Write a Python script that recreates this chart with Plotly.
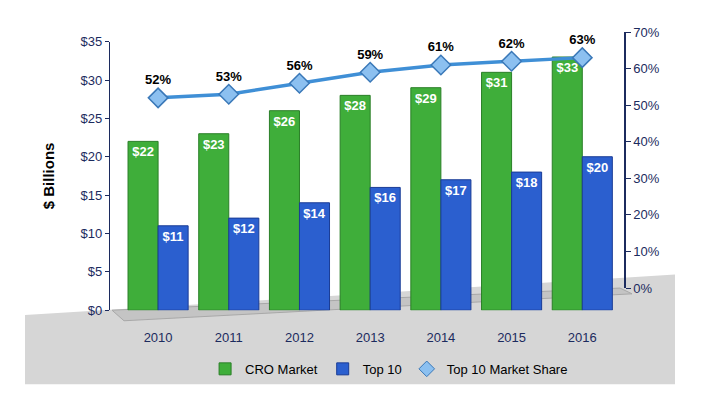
import plotly.graph_objects as go

years = ["2010", "2011", "2012", "2013", "2014", "2015", "2016"]
cro_market = [22, 23, 26, 28, 29, 31, 33]
top10 = [11, 12, 14, 16, 17, 18, 20]
share = [52, 53, 56, 59, 61, 62, 63]

left_ticks = [0, 5, 10, 15, 20, 25, 30, 35]
right_ticks = [0, 10, 20, 30, 40, 50, 60, 70]

W, H = 710, 400
navy = "#1c2b5e"
font_family = "Liberation Sans, Arial, sans-serif"

fig = go.Figure()

fig.add_trace(go.Bar(
    x=years, y=cro_market, name="CRO Market",
    marker=dict(color="#3fae3a", line=dict(color="#2a7f27", width=1)),
    text=[f"${v}" for v in cro_market], textposition="inside",
    insidetextanchor="end", textangle=0,
    textfont=dict(color="white", size=13, family=font_family, weight="bold"),
    xaxis="x", yaxis="y",
))
fig.add_trace(go.Bar(
    x=years, y=top10, name="Top 10",
    marker=dict(color="#2b5fcf", line=dict(color="#1a3c96", width=1)),
    text=[f"${v}" for v in top10], textposition="inside",
    insidetextanchor="end", textangle=0,
    textfont=dict(color="white", size=13, family=font_family, weight="bold"),
    xaxis="x", yaxis="y",
))
fig.add_trace(go.Scatter(
    x=years, y=share, name="Top 10 Market Share", showlegend=False,
    mode="lines+markers+text",
    line=dict(color="#3f8fd6", width=3.5),
    marker=dict(symbol="diamond", size=15, color="#8cc0f0",
                line=dict(color="#3a78b8", width=1.5)),
    text=[f"{v}%" for v in share], textposition="top center",
    textfont=dict(color="black", size=13, family=font_family, weight="bold"),
    xaxis="x2", yaxis="y2", cliponaxis=False,
))
# legend entry for the line series (diamond only)
fig.add_trace(go.Scatter(
    x=[None], y=[None], name="Top 10 Market Share", mode="markers",
    marker=dict(symbol="diamond", size=12, color="#8cc0f0",
                line=dict(color="#3a78b8", width=1)),
    xaxis="x2", yaxis="y2",
))

xdom = [110 / W, 624 / W]
xrange = [-0.68, 6.59]

fig.update_layout(
    width=W, height=H,
    margin=dict(l=0, r=0, t=0, b=0),
    paper_bgcolor="white", plot_bgcolor="rgba(0,0,0,0)",
    font=dict(family=font_family, color=navy, size=13),
    barmode="group", bargap=0.15, bargroupgap=0.0,
    xaxis=dict(domain=xdom, range=xrange, showgrid=False, zeroline=False,
               showline=False, ticks="", ticklabelstandoff=18,
               tickfont=dict(size=13, color=navy), anchor="y"),
    yaxis=dict(domain=[1 - 315 / H, 1 - 36 / H], range=[0, 35],
               tickvals=left_ticks, ticktext=[f"${v}" for v in left_ticks],
               showgrid=False, zeroline=False, showline=True,
               linecolor=navy, linewidth=1.2, ticks="outside", ticklen=4,
               tickcolor=navy, tickfont=dict(size=13, color=navy),
               title=dict(text="$ Billions", standoff=22,
                          font=dict(size=15, color="black", weight="bold")),
               anchor="x"),
    xaxis2=dict(domain=xdom, range=xrange, visible=False, anchor="y2"),
    yaxis2=dict(domain=[1 - 292 / H, 1 - 26 / H], range=[0, 70],
                tickvals=right_ticks, ticktext=[f"{v}%" for v in right_ticks],
                side="right", anchor="x2", showgrid=False, zeroline=False,
                showline=True, linecolor=navy, linewidth=1.5,
                ticks="outside", ticklen=5, tickcolor=navy,
                tickfont=dict(size=13, color=navy)),
    legend=dict(orientation="h", x=0.548, xanchor="center", y=1 - 376 / H,
                yanchor="middle", bgcolor="rgba(0,0,0,0)",
                font=dict(size=13, color="black"), traceorder="normal",
                itemwidth=30),
    shapes=[
        dict(type="path", xref="paper", yref="paper", layer="below",
             path=f"M {25/W},{1-320/H} L {675/W},{1-278/H} L {675/W},{1-392/H} L {25/W},{1-392/H} Z",
             fillcolor="#d6d6d6", line=dict(width=0)),
        dict(type="path", xref="paper", yref="paper", layer="below",
             path=f"M {112/W},{1-315/H} L {620/W},{1-292/H} L {632/W},{1-298/H} L {124/W},{1-326/H} Z",
             fillcolor="#c4c4c4", line=dict(color="#a8a8a8", width=1)),
    ],
)

fig.write_html("out.html")
